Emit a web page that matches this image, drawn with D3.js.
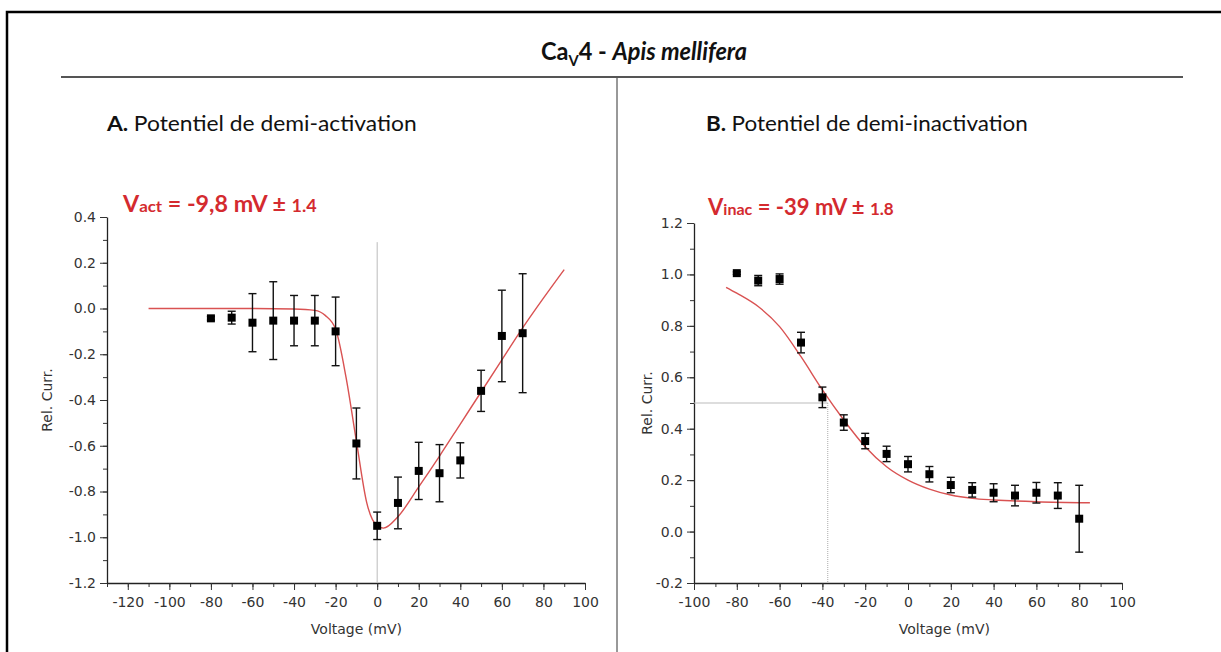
<!DOCTYPE html>
<html lang="en">
<head>
  <meta charset="UTF-8"/>
  <title>CaV4 - Apis mellifera</title>
  <script src="https://d3js.org/d3.v7.min.js"></script>
  <style>
    body { margin: 0; background: #fff; }
    .tick text { font-family: "DejaVu Sans", sans-serif; font-size: 14px; fill: #333; }
    .cal { font-family: Lato, "Open Sans", sans-serif; }
  </style>
</head>
<body>
<script>

  var w = 1221;
  var h = 652;

  // panel A : demi-activation (I-V)
  var actVolt  = [-80, -70, -60, -50, -40, -30, -20, -10, 0, 10, 20, 30, 40, 50, 60, 70];
  var actCurr  = [-0.043, -0.04, -0.062, -0.053, -0.053, -0.053, -0.10, -0.59, -0.95, -0.85, -0.71, -0.72, -0.664, -0.36, -0.12, -0.108];
  var actErr   = [0.008, 0.028, 0.127, 0.17, 0.11, 0.11, 0.15, 0.155, 0.06, 0.113, 0.125, 0.125, 0.077, 0.09, 0.2, 0.26];
  var actFitV  = [-110, -60, -40, -30, -25, -20, -15, -10, -5, 0, 3, 10, 20, 30, 40, 50, 60, 70, 80, 90];
  var actFitI  = [0, 0, -0.002, -0.008, -0.03, -0.09, -0.3, -0.58, -0.85, -0.95, -0.96, -0.91, -0.78, -0.645, -0.505, -0.365, -0.225, -0.085, 0.045, 0.17];
  var actXTicks = [-120, -100, -80, -60, -40, -20, 0, 20, 40, 60, 80, 100];
  var actYTicks = [-1.2, -1.0, -0.8, -0.6, -0.4, -0.2, 0.0, 0.2, 0.4];

  // panel B : demi-inactivation
  var inaVolt  = [-80, -70, -60, -50, -40, -30, -20, -10, 0, 10, 20, 30, 40, 50, 60, 70, 80];
  var inaCurr  = [1.005, 0.976, 0.982, 0.735, 0.522, 0.424, 0.352, 0.302, 0.262, 0.223, 0.181, 0.162, 0.151, 0.14, 0.151, 0.14, 0.05];
  var inaErr   = [0.005, 0.02, 0.02, 0.04, 0.04, 0.03, 0.03, 0.03, 0.03, 0.03, 0.03, 0.028, 0.035, 0.04, 0.04, 0.05, 0.13];
  var inaFitV  = [-85, -80, -70, -60, -50, -40, -30, -20, -10, 0, 10, 20, 30, 40, 60, 85];
  var inaFitI  = [0.95, 0.927, 0.875, 0.797, 0.68, 0.551, 0.434, 0.33, 0.252, 0.2, 0.165, 0.142, 0.129, 0.123, 0.116, 0.112];
  var inaXTicks = [-100, -80, -60, -40, -20, 0, 20, 40, 60, 80, 100];
  var inaYTicks = [-0.2, 0.0, 0.2, 0.4, 0.6, 0.8, 1.0, 1.2];
  var inaHalf = [-37.5, 0.5];

  var red = "#d42a2f";
  var fitColor = "#d95252";

  var svg = d3.select("body")
              .append("svg")
              .attr("width", w)
              .attr("height", h);

  // stretch a text horizontally so it spans the same width as in the figure
  function fitWidth(t, x, y, target) {
    var bw = t.node().getBBox().width;
    t.attr("x", 0).attr("y", 0)
     .attr("transform", "translate(" + x + "," + y + ") scale(" + (target / bw) + ",1)");
  }

  // frame
  svg.append("rect")
     .attr("x", 7).attr("y", 12)
     .attr("width", 1230).attr("height", 660)
     .attr("fill", "none")
     .attr("stroke", "#000")
     .attr("stroke-width", 2.5);

  // title
  var title = svg.append("text")
     .attr("class", "cal")
     .attr("x", 541).attr("y", 60)
     .attr("font-size", 24)
     .attr("font-weight", "bold")
     .attr("fill", "#111");
  title.append("tspan").text("Ca");
  title.append("tspan").attr("font-size", 15).attr("dy", 6).text("V");
  title.append("tspan").attr("dy", -6).text("4 - ");
  title.append("tspan").attr("font-style", "italic").text("Apis mellifera");
  fitWidth(title, 541, 60, 206);

  svg.append("line")
     .attr("x1", 61).attr("x2", 1183)
     .attr("y1", 77).attr("y2", 77)
     .attr("stroke", "#555").attr("stroke-width", 2);

  svg.append("line")
     .attr("x1", 617).attr("x2", 617)
     .attr("y1", 78).attr("y2", h)
     .attr("stroke", "#333").attr("stroke-width", 1);

  function panelTitle(x, letter, txt, width) {
    var t = svg.append("text")
       .attr("class", "cal")
       .attr("font-size", 21)
       .attr("fill", "#111");
    t.append("tspan").attr("font-weight", "bold").text(letter + " ");
    t.append("tspan").text(txt);
    fitWidth(t, x, 131, width);
  }
  panelTitle(107, "A.", "Potentiel de demi-activation", 311);
  panelTitle(706, "B.", "Potentiel de demi-inactivation", 322);

  function redLabel(x, y, sub, value, err, width) {
    var t = svg.append("text")
       .attr("class", "cal")
       .attr("font-size", 22)
       .attr("font-weight", "bold")
       .attr("fill", red);
    t.append("tspan").text("V");
    t.append("tspan").attr("font-size", 16).text(sub);
    t.append("tspan").text(" = " + value + " mV \u00b1 ");
    t.append("tspan").attr("font-size", 17).text(err);
    fitWidth(t, x, y, width);
  }
  redLabel(123, 212, "act", "-9,8", "1.4", 195);
  redLabel(708, 215, "inac", "-39", "1.8", 187);

  function drawPanel(opt) {
    var x = d3.scaleLinear().domain(opt.xDomain).range([opt.x0, opt.x1]);
    var y = d3.scaleLinear().domain(opt.yDomain).range([583, opt.yTop]);
    var g = svg.append("g");

    // minor ticks
    var xMinor = d3.range(opt.xDomain[0], opt.xDomain[1] + 1, 10);
    g.append("g")
     .attr("transform", "translate(0,583)")
     .call(d3.axisBottom(x).tickValues(xMinor).tickSize(4).tickFormat(""))
     .call(function(s) { s.select(".domain").remove(); s.selectAll("line").attr("stroke", "#333"); });
    var yMinor = d3.range(Math.round(opt.yDomain[0] * 10), Math.round(opt.yDomain[1] * 10) + 1).map(function(d) { return d / 10; });
    g.append("g")
     .attr("transform", "translate(" + opt.x0 + ",0)")
     .call(d3.axisLeft(y).tickValues(yMinor).tickSize(4).tickFormat(""))
     .call(function(s) { s.select(".domain").remove(); s.selectAll("line").attr("stroke", "#333"); });

    var xa = g.append("g")
     .attr("transform", "translate(0,583)")
     .call(d3.axisBottom(x).tickValues(opt.xTicks).tickSize(7).tickSizeOuter(0).tickPadding(7)
             .tickFormat(function(d) { return String(d); }));
    var ya = g.append("g")
     .attr("transform", "translate(" + opt.x0 + ",0)")
     .call(d3.axisLeft(y).tickValues(opt.yTicks).tickSize(7).tickSizeOuter(0).tickPadding(4)
             .tickFormat(function(d) { return d.toFixed(1); }));
    [xa, ya].forEach(function(a) {
      a.select(".domain").attr("stroke", "#222").attr("stroke-width", 1.3);
      a.selectAll(".tick line").attr("stroke", "#333");
    });

    g.append("text")
     .attr("x", x(opt.xLabelAt)).attr("y", 634)
     .attr("text-anchor", "middle")
     .attr("font-family", "DejaVu Sans, sans-serif")
     .attr("font-size", 14)
     .attr("fill", "#333")
     .text("Voltage (mV)");
    g.append("text")
     .attr("transform", "translate(" + opt.yLabelX + "," + ((583 + opt.yTop) / 2) + ") rotate(-90)")
     .attr("text-anchor", "middle")
     .attr("font-family", "DejaVu Sans, sans-serif")
     .attr("font-size", 14)
     .attr("fill", "#333")
     .text("Rel. Curr.");

    return { g: g, x: x, y: y };
  }

  function drawData(p, volt, curr, err, fitV, fitI) {
    var line = d3.line()
       .x(function(d) { return p.x(d[0]); })
       .y(function(d) { return p.y(d[1]); })
       .curve(d3.curveMonotoneX);
    p.g.append("path")
       .datum(fitV.map(function(v, i) { return [v, fitI[i]]; }))
       .attr("d", line)
       .attr("fill", "none")
       .attr("stroke", fitColor)
       .attr("stroke-width", 1.4);

    var pts = volt.map(function(v, i) { return { v: v, c: curr[i], e: err[i] }; });
    var eb = p.g.selectAll(".eb").data(pts).enter().append("g");
    eb.append("line")
      .attr("x1", function(d) { return p.x(d.v); })
      .attr("x2", function(d) { return p.x(d.v); })
      .attr("y1", function(d) { return p.y(d.c + d.e); })
      .attr("y2", function(d) { return p.y(d.c - d.e); });
    eb.append("line")
      .attr("x1", function(d) { return p.x(d.v) - 4; })
      .attr("x2", function(d) { return p.x(d.v) + 4; })
      .attr("y1", function(d) { return p.y(d.c + d.e); })
      .attr("y2", function(d) { return p.y(d.c + d.e); });
    eb.append("line")
      .attr("x1", function(d) { return p.x(d.v) - 4; })
      .attr("x2", function(d) { return p.x(d.v) + 4; })
      .attr("y1", function(d) { return p.y(d.c - d.e); })
      .attr("y2", function(d) { return p.y(d.c - d.e); });
    eb.selectAll("line").attr("stroke", "#111").attr("stroke-width", 1.4);
    eb.append("rect")
      .attr("x", function(d) { return p.x(d.v) - 4; })
      .attr("y", function(d) { return p.y(d.c) - 4; })
      .attr("width", 8).attr("height", 8)
      .attr("fill", "#000");
  }

  var pA = drawPanel({ xDomain: [-130, 100], yDomain: [-1.2, 0.4], x0: 107, x1: 585, yTop: 217,
                       xTicks: actXTicks, yTicks: actYTicks, xLabelAt: -10, yLabelX: 52 });
  // zero voltage guide
  pA.g.append("line")
     .attr("x1", pA.x(0)).attr("x2", pA.x(0))
     .attr("y1", pA.y(0.29)).attr("y2", pA.y(-1.2))
     .attr("stroke", "#bbb").attr("stroke-width", 1);
  drawData(pA, actVolt, actCurr, actErr, actFitV, actFitI);

  var pB = drawPanel({ xDomain: [-100, 100], yDomain: [-0.2, 1.2], x0: 694, x1: 1122, yTop: 223,
                       xTicks: inaXTicks, yTicks: inaYTicks, xLabelAt: 17, yLabelX: 652 });
  pB.g.append("line")
     .attr("x1", pB.x(-100)).attr("x2", pB.x(inaHalf[0]))
     .attr("y1", pB.y(inaHalf[1])).attr("y2", pB.y(inaHalf[1]))
     .attr("stroke", "#bbb").attr("stroke-width", 1);
  pB.g.append("line")
     .attr("x1", pB.x(inaHalf[0])).attr("x2", pB.x(inaHalf[0]))
     .attr("y1", pB.y(inaHalf[1])).attr("y2", pB.y(-0.2))
     .attr("stroke", "#aaa").attr("stroke-width", 1)
     .attr("stroke-dasharray", "1,1");
  drawData(pB, inaVolt, inaCurr, inaErr, inaFitV, inaFitI);

</script>
</body>
</html>
